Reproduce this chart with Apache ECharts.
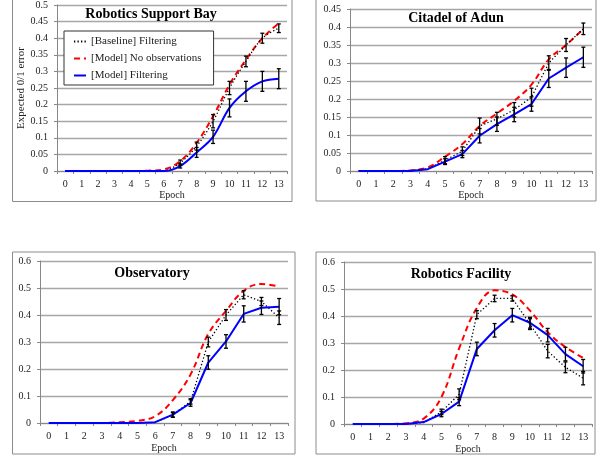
<!DOCTYPE html>
<html><head><meta charset="utf-8">
<script src="https://cdn.jsdelivr.net/npm/echarts@6/dist/echarts.min.js"></script>
<style>html,body{margin:0;padding:0;background:#fff}#c{width:607px;height:456px}</style>
</head><body><div id="c"></div>
<script>
const epochs = ['0','1','2','3','4','5','6','7','8','9','10','11','12','13'];
const seriesNames = ['[Baseline] Filtering', '[Model] No observations', '[Model] Filtering'];
const panelTitles = ['Robotics Support Bay', 'Citadel of Adun', 'Observatory', 'Robotics Facility'];
const yMax = [0.5, 0.45, 0.6, 0.6];
const yStep = [0.05, 0.05, 0.1, 0.1];

// Robotics Support Bay
const rsbBaseline = [0,0,0,0,0,0,0.001,0.025,0.075,0.15,0.25,0.33,0.40,0.43];
const rsbNoObs    = [0,0,0,0,0,0.001,0.005,0.03,0.085,0.165,0.26,0.335,0.40,0.445];
const rsbFilter   = [0,0,0,0,0,0,0,0.015,0.056,0.103,0.19,0.24,0.27,0.278];
const rsbBaselineErr = [0,0,0,0,0,0,0,0.008,0.012,0.02,0.02,0.016,0.015,0.013];
const rsbFilterErr   = [0,0,0,0,0,0,0,0.006,0.015,0.02,0.027,0.03,0.03,0.03];
// Citadel of Adun
const cadBaseline = [0,0,0,0.001,0.006,0.03,0.055,0.125,0.145,0.17,0.205,0.30,0.35,0.395];
const cadNoObs    = [0,0,0,0.002,0.01,0.04,0.075,0.125,0.16,0.195,0.24,0.31,0.35,0.395];
const cadFilter   = [0,0,0,0,0.005,0.026,0.047,0.098,0.13,0.157,0.186,0.257,0.287,0.316];
const cadBaselineErr = [0,0,0,0,0,0.01,0.012,0.022,0.018,0.02,0.025,0.02,0.018,0.016];
const cadFilterErr   = [0,0,0,0,0,0.008,0.01,0.02,0.02,0.02,0.02,0.025,0.027,0.028];
// Observatory
const obsBaseline = [0,0,0,0,0,0,0.002,0.03,0.08,0.30,0.40,0.475,0.45,0.39];
const obsNoObs    = [0,0,0,0,0.003,0.008,0.025,0.085,0.18,0.33,0.415,0.49,0.515,0.505];
const obsFilter   = [0,0,0,0,0,0,0.003,0.031,0.074,0.224,0.302,0.404,0.427,0.431];
const obsBaselineErr = [0,0,0,0,0,0,0,0.008,0.01,0.018,0.02,0.015,0.015,0.025];
const obsFilterErr   = [0,0,0,0,0,0,0,0.01,0.012,0.025,0.025,0.03,0.025,0.03];
// Robotics Facility
const rfaBaseline = [0,0,0,0.001,0.005,0.045,0.11,0.405,0.465,0.465,0.37,0.27,0.21,0.17];
const rfaNoObs    = [0,0,0,0.003,0.02,0.1,0.28,0.43,0.495,0.48,0.42,0.34,0.285,0.245];
const rfaFilter   = [0,0,0,0,0.007,0.037,0.083,0.278,0.347,0.403,0.375,0.329,0.259,0.214];
const rfaBaselineErr = [0,0,0,0,0,0.01,0.02,0.015,0.012,0.01,0.02,0.025,0.02,0.025];
const rfaFilterErr   = [0,0,0,0,0,0.01,0.015,0.025,0.025,0.025,0.02,0.025,0.025,0.025];

const panels = [
  {b: rsbBaseline, n: rsbNoObs, f: rsbFilter, be: rsbBaselineErr, fe: rsbFilterErr},
  {b: cadBaseline, n: cadNoObs, f: cadFilter, be: cadBaselineErr, fe: cadFilterErr},
  {b: obsBaseline, n: obsNoObs, f: obsFilter, be: obsBaselineErr, fe: obsFilterErr},
  {b: rfaBaseline, n: rfaNoObs, f: rfaFilter, be: rfaBaselineErr, fe: rfaFilterErr}
];

// layout (styles/positions only)
const grids = [
  {left: 57, top: 5, width: 230, height: 166},
  {left: 350, top: 9, width: 242, height: 162},
  {left: 40, top: 261, width: 248, height: 162},
  {left: 344, top: 262, width: 248, height: 162}
];
const smoothPanel = [0.35, false, false, false];
const epochGap = [18, 18, 20, 20];
const titlePos = [[151, 14], [456, 18], [152, 273], [461, 274]];
const frames = [[12.5, -5, 279.5, 206.5], [316, -5, 280, 206], [12.5, 252, 282.5, 202], [316, 252, 279, 202]];

const FONT = '"Liberation Serif", "Times New Roman", serif';

function errRender(params, api) {
  const x = api.value(0), lo = api.value(1), hi = api.value(2);
  const p1 = api.coord([x, lo]), p2 = api.coord([x, hi]);
  const w = 2;
  const st = {stroke: '#000', lineWidth: 1.3};
  return {type: 'group', children: [
    {type: 'line', shape: {x1: p1[0], y1: p1[1], x2: p2[0], y2: p2[1]}, style: st},
    {type: 'line', shape: {x1: p1[0]-w, y1: p1[1], x2: p1[0]+w, y2: p1[1]}, style: st},
    {type: 'line', shape: {x1: p2[0]-w, y1: p2[1], x2: p2[0]+w, y2: p2[1]}, style: st}
  ]};
}

const xAxis = [], yAxis = [], series = [];
grids.forEach((g, i) => {
  xAxis.push({
    type: 'category', gridIndex: i, data: epochs, boundaryGap: true,
    name: 'Epoch', nameLocation: 'middle', nameGap: epochGap[i],
    nameTextStyle: {fontFamily: FONT, fontSize: 10, color: '#222'},
    axisLine: {lineStyle: {color: '#888', width: 1}},
    axisTick: {show: true, length: 3, lineStyle: {color: '#888'}},
    axisLabel: {fontFamily: FONT, fontSize: 10, color: '#222', margin: 8, interval: 0}
  });
  yAxis.push({
    type: 'value', gridIndex: i, min: 0, max: yMax[i], interval: yStep[i],
    name: i === 0 ? 'Expected 0/1 error' : '', nameLocation: 'middle', nameGap: 30, nameRotate: 90,
    nameTextStyle: {fontFamily: FONT, fontSize: 11, color: '#222'},
    axisLine: {show: true, lineStyle: {color: '#888', width: 1}},
    axisTick: {show: true, length: 3, lineStyle: {color: '#888'}},
    axisLabel: {fontFamily: FONT, fontSize: 10, color: '#222', margin: 9,
      formatter: v => String(+v.toFixed(2))},
    splitLine: {show: true, lineStyle: {color: '#a6a6a6', width: 1.3}}
  });
  const p = panels[i];
  series.push({
    name: seriesNames[0], type: 'line', xAxisIndex: i, yAxisIndex: i, data: p.b,
    symbol: 'none', smooth: smoothPanel[i], z: 3,
    lineStyle: {color: '#000', width: 1.3, type: [1.3, 2.2]}, itemStyle: {color: '#000'}
  });
  series.push({
    name: seriesNames[1], type: 'line', xAxisIndex: i, yAxisIndex: i, data: p.n,
    symbol: 'none', smooth: 0.4, z: 2,
    lineStyle: {color: '#ff0000', width: 2, type: [6, 4]}, itemStyle: {color: '#ff0000'}
  });
  series.push({
    name: seriesNames[2], type: 'line', xAxisIndex: i, yAxisIndex: i, data: p.f,
    symbol: 'none', smooth: smoothPanel[i], z: 4,
    lineStyle: {color: '#0000ff', width: 2}, itemStyle: {color: '#0000ff'}
  });
  const eb = [];
  p.b.forEach((v, k) => { if (p.be[k] > 0) eb.push([k, v - p.be[k], v + p.be[k]]); });
  p.f.forEach((v, k) => { if (p.fe[k] > 0) eb.push([k, v - p.fe[k], v + p.fe[k]]); });
  series.push({
    type: 'custom', xAxisIndex: i, yAxisIndex: i, data: eb, renderItem: errRender, z: 5,
    silent: true, encode: {x: 0, y: [1, 2]}
  });
});

const graphic = [];
frames.forEach(f => graphic.push({type: 'rect', shape: {x: f[0], y: f[1], width: f[2], height: f[3]},
  style: {fill: 'none', stroke: '#8c8c8c', lineWidth: 1}, z: -10, silent: true}));
panelTitles.forEach((t, i) => graphic.push({type: 'text', x: titlePos[i][0], y: titlePos[i][1],
  style: {text: t, fontFamily: FONT, fontWeight: 'bold', fontSize: 14, fill: '#000',
    textAlign: 'center', textVerticalAlign: 'middle'}, z: 10}));

const chart = echarts.init(document.getElementById('c'), null, {renderer: 'canvas'});
chart.setOption({
  animation: false,
  backgroundColor: '#fff',
  grid: grids.map(g => Object.assign({containLabel: false}, g)),
  xAxis, yAxis, series, graphic,
  legend: {
    data: seriesNames, orient: 'vertical', left: 64, top: 31,
    padding: [5, 12, 4, 9], itemGap: 6, itemWidth: 12, itemHeight: 12,
    itemStyle: {opacity: 0},
    backgroundColor: '#fff', borderColor: '#333', borderWidth: 1,
    textStyle: {fontFamily: FONT, fontSize: 11, color: '#222'},
    selectedMode: false, z: 20
  }
});
</script></body></html>
